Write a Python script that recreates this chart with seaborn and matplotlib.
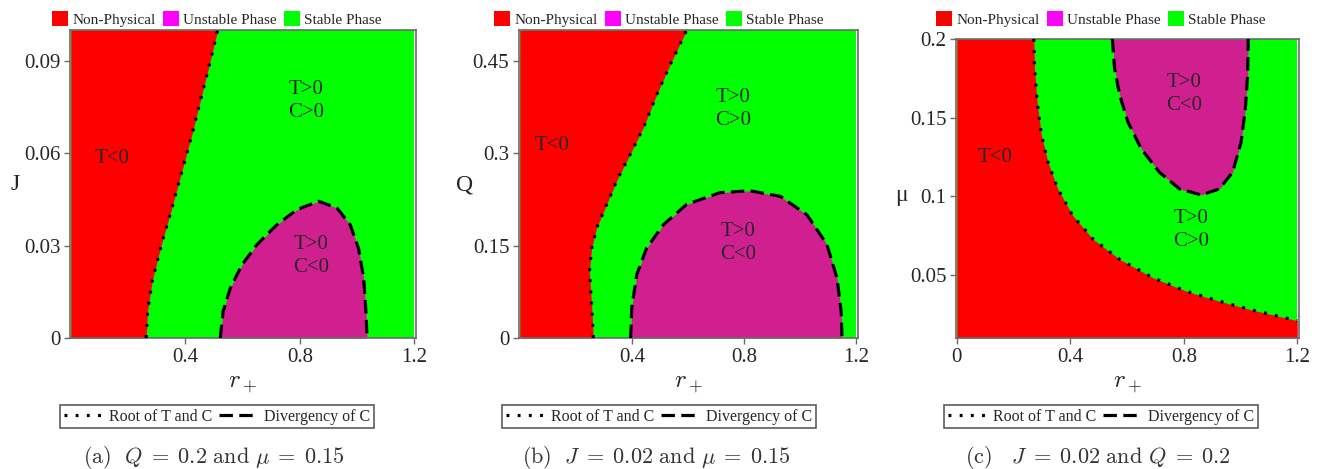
import numpy as np
import matplotlib
matplotlib.use("Agg")
import matplotlib.pyplot as plt
import seaborn as sns
import pandas as pd
from matplotlib.patches import Patch
from matplotlib.lines import Line2D

# ---------------- data ----------------
# panel (a): Q = 0.2, mu = 0.15 ; parameter J
a_root_J = [0.0, 0.0087, 0.0184, 0.0303, 0.0422, 0.0542, 0.0661, 0.0780, 0.0899, 0.1]
a_root_r = [0.263, 0.268, 0.284, 0.316, 0.353, 0.388, 0.423, 0.455, 0.487, 0.513]
a_div_r = [0.522, 0.532, 0.557, 0.598, 0.650, 0.720, 0.790, 0.866, 0.930, 0.976, 1.005, 1.023, 1.031, 1.035]
a_div_J = [0.0, 0.0087, 0.0162, 0.0238, 0.0303, 0.0368, 0.0417, 0.0444, 0.0422, 0.0368, 0.0292, 0.0195, 0.0087, 0.0]

# panel (b): J = 0.02, mu = 0.15 ; parameter Q
b_root_Q = [0.0, 0.054, 0.108, 0.146, 0.179, 0.211, 0.255, 0.298, 0.341, 0.395, 0.444, 0.5]
b_root_r = [0.262, 0.256, 0.248, 0.256, 0.274, 0.304, 0.345, 0.393, 0.440, 0.488, 0.536, 0.595]
b_div_r = [0.395, 0.399, 0.417, 0.452, 0.512, 0.595, 0.714, 0.821, 0.929, 1.024, 1.095, 1.131, 1.146, 1.149]
b_div_Q = [0.0, 0.049, 0.103, 0.146, 0.184, 0.217, 0.236, 0.239, 0.230, 0.200, 0.152, 0.0975, 0.043, 0.0]

# panel (c): J = 0.02, Q = 0.2 ; parameter mu
c_root_r = [0.271, 0.274, 0.283, 0.298, 0.321, 0.356, 0.409, 0.480, 0.574, 0.691, 0.808, 0.925, 1.043, 1.2]
c_root_mu = [0.2, 0.181, 0.160, 0.139, 0.1217, 0.1047, 0.0877, 0.0728, 0.0600, 0.0483, 0.0398, 0.0334, 0.0277, 0.021]
c_div_r = [0.548, 0.556, 0.574, 0.603, 0.650, 0.714, 0.785, 0.861, 0.925, 0.972, 1.002, 1.017, 1.025, 1.027]
c_div_mu = [0.2, 0.181, 0.1643, 0.1472, 0.1302, 0.1153, 0.1047, 0.1009, 0.1047, 0.1153, 0.1345, 0.1558, 0.177, 0.2]

# domains
r_domain = [0.0, 1.2]
a_range = [0.0, 0.1]
b_range = [0.0, 0.5]
c_range = [0.01, 0.2]

# ticks
a_yticks = [0, 0.03, 0.06, 0.09]
a_yticklabels = ["0", "0.03", "0.06", "0.09"]
b_yticks = [0, 0.15, 0.3, 0.45]
b_yticklabels = ["0", "0.15", "0.3", "0.45"]
c_yticks = [0.05, 0.1, 0.15, 0.2]
c_yticklabels = ["0.05", "0.1", "0.15", "0.2"]
ab_xticks = [0.4, 0.8, 1.2]
ab_xticklabels = ["0.4", "0.8", "1.2"]
c_xticks = [0, 0.4, 0.8, 1.2]
c_xticklabels = ["0", "0.4", "0.8", "1.2"]

ylabels = ["J", "Q", "μ"]
captions = [r"$\mathrm{(a)}\ \ Q\;=\;0.2\ \mathrm{and}\ \mu\;=\;0.15$",
            r"$\mathrm{(b)}\ \ J\;=\;0.02\ \mathrm{and}\ \mu\;=\;0.15$",
            r"$\mathrm{(c)}\ \ \ J\;=\;0.02\ \mathrm{and}\ Q\;=\;0.2$"]
phase_names = ["Non-Physical", "Unstable Phase", "Stable Phase"]
line_names = ["Root of T and C", "Divergency of C"]

# region labels: (text, r, param)
a_labels = [("T<0", 0.145, 0.0583), ("T>0\nC>0", 0.823, 0.0769), ("T>0\nC<0", 0.840, 0.0265)]
b_labels = [("T<0", 0.115, 0.312), ("T>0\nC>0", 0.760, 0.372), ("T>0\nC<0", 0.777, 0.154)]
c_labels = [("T<0", 0.136, 0.125), ("T>0\nC<0", 0.802, 0.165), ("T>0\nC>0", 0.826, 0.0787)]

# ---------------- style ----------------
RED = "#ff0000"
GREEN = "#00ff00"
VIOLET = "#d02090"
MAGENTA = "#ff00ff"
FRAME = "#6a6a6a"
DOT = (0, (0.9, 2.6))
DASH = (0, (4.2, 2.0))
LW = 2.3

sns.set_theme(style="white")
plt.rcParams["font.family"] = ["Liberation Serif", "DejaVu Serif"]
plt.rcParams["mathtext.fontset"] = "cm"

fig = plt.figure(figsize=(13.22, 4.69), dpi=100)
W, H = 1322.0, 469.0


def ax_rect(l, r, t, b):
    return [l / W, 1 - b / H, (r - l) / W, (b - t) / H]


axes = [fig.add_axes(ax_rect(70, 416, 30, 338)),
        fig.add_axes(ax_rect(519, 858, 30, 338)),
        fig.add_axes(ax_rect(956, 1299, 39, 338))]


def line(ax, x, y, ls):
    df = pd.DataFrame({"x": x, "y": y})
    sns.lineplot(data=df, x="x", y="y", sort=False, estimator=None, ax=ax,
                 color="black", linestyle=ls, linewidth=LW, zorder=4)


def style_axis(ax, yr, xt, xtl, yt, ytl, ylab, ylab_y):
    ax.set_xlim(-0.003, 1.206)
    ax.set_ylim(*yr)
    ax.set_xticks(xt)
    ax.set_xticklabels(xtl)
    ax.set_yticks(yt)
    ax.set_yticklabels(ytl)
    ax.tick_params(axis="both", which="both", direction="out", length=4, width=1,
                   color=FRAME, labelsize=15, pad=3, bottom=True, left=True)
    for s in ax.spines.values():
        s.set_color(FRAME)
        s.set_linewidth(1.2)
    ax.set_xlabel(r"$r_+$", fontsize=18)
    h = ax.get_position().height * H
    ax.xaxis.set_label_coords(0.5, -35.0 / h)
    ax.set_ylabel(ylab, fontsize=17, rotation=0, va="center", ha="center")
    ax.yaxis.set_label_coords(-0.16, ylab_y)
    ax.grid(False)


def region_text(ax, labels):
    for t, x, y in labels:
        ax.text(x, y, t, fontsize=15, ha="center", va="center", linespacing=1.3, zorder=5)


# panel (a)
ax = axes[0]
ax.fill_between(r_domain, a_range[0], a_range[1], color=GREEN, lw=0, zorder=1)
ax.fill_betweenx(a_root_J, r_domain[0], a_root_r, color=RED, lw=0, zorder=2)
ax.fill_between(a_div_r, a_range[0], a_div_J, color=VIOLET, lw=0, zorder=2)
line(ax, a_root_r, a_root_J, DOT)
line(ax, a_div_r, a_div_J, DASH)
region_text(ax, a_labels)
style_axis(ax, a_range, ab_xticks, ab_xticklabels, a_yticks, a_yticklabels, ylabels[0], 0.497)

# panel (b)
ax = axes[1]
ax.fill_between(r_domain, b_range[0], b_range[1], color=GREEN, lw=0, zorder=1)
ax.fill_betweenx(b_root_Q, r_domain[0], b_root_r, color=RED, lw=0, zorder=2)
ax.fill_between(b_div_r, b_range[0], b_div_Q, color=VIOLET, lw=0, zorder=2)
line(ax, b_root_r, b_root_Q, DOT)
line(ax, b_div_r, b_div_Q, DASH)
region_text(ax, b_labels)
style_axis(ax, b_range, ab_xticks, ab_xticklabels, b_yticks, b_yticklabels, ylabels[1], 0.497)

# panel (c)
ax = axes[2]
ax.fill_between(r_domain, c_range[0], c_range[1], color=GREEN, lw=0, zorder=1)
ax.fill_between([r_domain[0]] + c_root_r, c_range[0], [c_range[1]] + c_root_mu,
                color=RED, lw=0, zorder=2)
ax.fill_between(c_div_r, c_div_mu, c_range[1], color=VIOLET, lw=0, zorder=2)
line(ax, c_root_r, c_root_mu, DOT)
line(ax, c_div_r, c_div_mu, DASH)
region_text(ax, c_labels)
style_axis(ax, c_range, c_xticks, c_xticklabels, c_yticks, c_yticklabels, ylabels[2], 0.478)

# legends and captions
centers = [217, 659, 1101]
phase_handles = [Patch(facecolor=RED, edgecolor="none"),
                 Patch(facecolor=MAGENTA, edgecolor="none"),
                 Patch(facecolor=GREEN, edgecolor="none")]
line_handles = [Line2D([], [], color="black", linestyle=DOT, linewidth=LW),
                Line2D([], [], color="black", linestyle=DASH, linewidth=LW)]
for i, cx in enumerate(centers):
    fig.legend(phase_handles, phase_names, loc="center", ncol=3, frameon=False,
               bbox_to_anchor=(cx / W, 1 - 19 / H), fontsize=11,
               handlelength=1.05, handleheight=1.1, handletextpad=0.25,
               columnspacing=0.5, borderpad=0.1)
    leg = fig.legend(line_handles, line_names, loc="center", ncol=2, frameon=True,
                     bbox_to_anchor=(cx / W, 1 - 416.5 / H), fontsize=11.5,
                     handlelength=2.4, handletextpad=0.45, columnspacing=0.4,
                     borderpad=0.25, fancybox=False)
    leg.get_frame().set_edgecolor("#333333")
    leg.get_frame().set_linewidth(1.2)
    fig.text(cx / W - 3 / W, 1 - 457 / H, captions[i], fontsize=16,
             ha="center", va="center", color="#333333")

fig.savefig("out.png", dpi=100)
